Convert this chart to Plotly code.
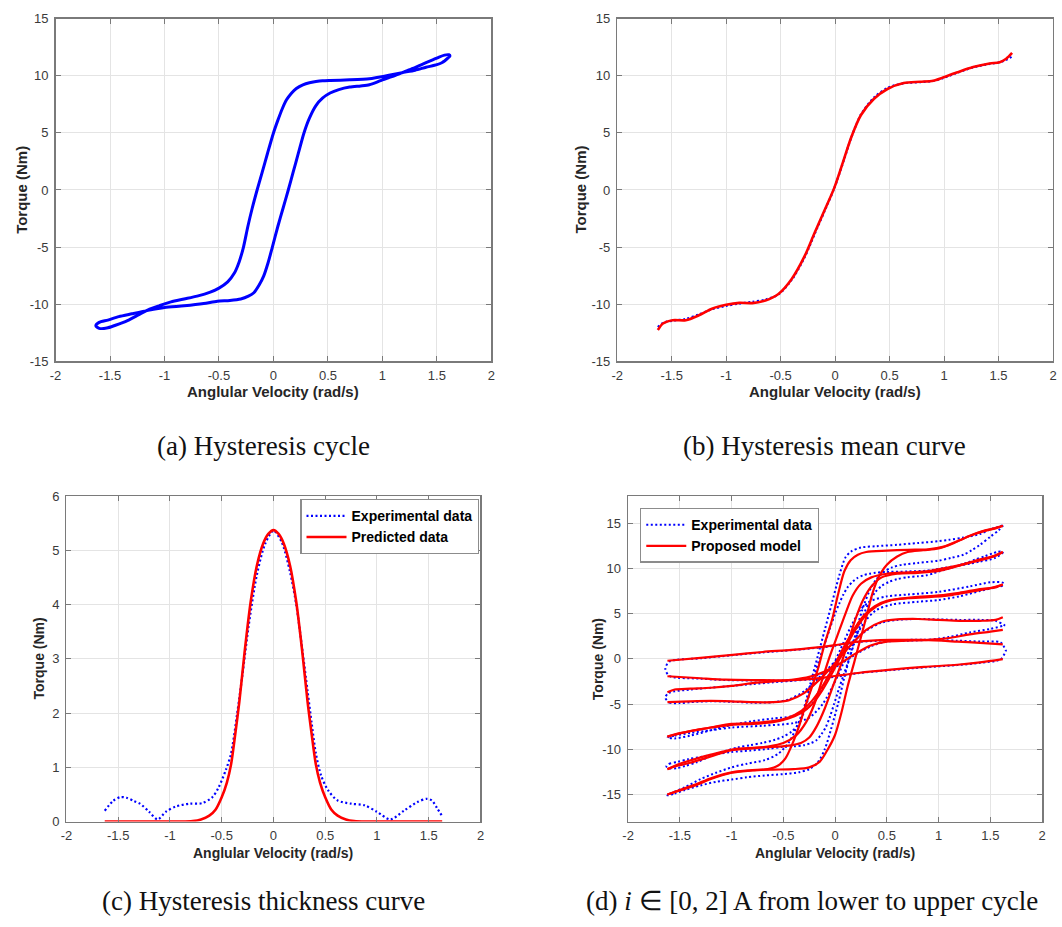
import plotly.graph_objects as go

W, H = 1062, 927

# ---------------- Panel (a): hysteresis cycle ----------------
a_inc_vel = [-1.63, -1.60, -1.52, -1.42, -1.30, -1.15, -1.00, -0.82, -0.64, -0.515, -0.40, -0.30, -0.23, -0.18,
             -0.13, -0.09, -0.05, -0.01, 0.04, 0.088, 0.136, 0.182, 0.228, 0.28, 0.33, 0.39, 0.45, 0.52, 0.60, 0.70,
             0.80, 0.88, 0.95, 1.00, 1.06, 1.12, 1.20, 1.28, 1.35, 1.45, 1.52, 1.57, 1.61]
a_inc_torque = [-11.9, -11.6, -11.4, -11.1, -10.85, -10.55, -10.3, -10.15, -9.95, -9.75, -9.68, -9.55, -9.3,
                -9.0, -8.3, -7.55, -6.4, -5.0, -3.2, -1.6, 0.0, 1.6, 3.2, 5.0, 6.3, 7.4, 8.05, 8.5, 8.8, 9.02,
                9.12, 9.22, 9.45, 9.65, 9.85, 10.05, 10.35, 10.65, 10.95, 11.35, 11.65, 11.82, 11.85]
a_dec_vel = [1.62, 1.60, 1.57, 1.545, 1.50, 1.40, 1.30, 1.18, 1.06, 0.95, 0.88, 0.70, 0.52, 0.45, 0.39, 0.33,
             0.27, 0.21, 0.167, 0.12, 0.08, 0.04, 0.0, -0.055, -0.105, -0.15, -0.195, -0.235, -0.275, -0.315,
             -0.36, -0.42, -0.50, -0.58, -0.70, -0.82, -0.94, -1.05, -1.15, -1.24, -1.34, -1.45, -1.53, -1.60,
             -1.63]
a_dec_torque = [11.75, 11.55, 11.3, 11.15, 10.98, 10.75, 10.5, 10.28, 10.05, 9.85, 9.74, 9.65, 9.6, 9.57, 9.5,
                9.4, 9.22, 8.9, 8.5, 7.9, 7.1, 6.1, 5.0, 3.2, 1.5, 0.0, -1.6, -3.2, -5.0, -6.3, -7.3, -8.05,
                -8.6, -8.95, -9.3, -9.55, -9.8, -10.15, -10.5, -10.95, -11.45, -11.85, -12.1, -12.12, -11.9]

# ---------------- Panel (b): hysteresis mean curve ----------------
b_vel = [-1.627, -1.58, -1.49, -1.37, -1.25, -1.13, -1.0, -0.88, -0.76, -0.64, -0.52, -0.4, -0.28, -0.19,
         -0.097, -0.006, 0.085, 0.145, 0.236, 0.357, 0.48, 0.63, 0.78, 0.9, 0.99, 1.115, 1.267, 1.418, 1.51,
         1.57, 1.624]
b_exp_torque = [-12.0, -11.65, -11.45, -11.3, -10.9, -10.45, -10.15, -9.95, -9.8, -9.6, -9.15, -7.9, -5.9,
                -3.9, -1.85, 0.2, 2.75, 4.5, 6.6, 8.1, 8.95, 9.35, 9.45, 9.55, 9.8, 10.25, 10.75, 11.05, 11.2,
                11.4, 11.7]
b_pred_torque = [-12.27, -11.7, -11.41, -11.41, -10.98, -10.4, -10.06, -9.89, -9.91, -9.68, -9.11, -7.82, -5.8,
                 -3.8, -1.78, 0.23, 2.82, 4.54, 6.55, 7.99, 8.85, 9.37, 9.48, 9.57, 9.86, 10.29, 10.78, 11.09,
                 11.2, 11.5, 12.01]

# ---------------- Panel (c): hysteresis thickness curve ----------------
c_exp_vel = [-1.63, -1.55, -1.48, -1.42, -1.35, -1.29, -1.2, -1.12, -1.04, -0.94, -0.81, -0.69, -0.59, -0.53,
             -0.46, -0.41, -0.35, -0.3, -0.24, -0.16, -0.08, 0.0, 0.08, 0.16, 0.22, 0.28, 0.33, 0.37, 0.41,
             0.46, 0.53, 0.62, 0.75, 0.88, 1.0, 1.13, 1.26, 1.39, 1.48, 1.53, 1.58, 1.63]
c_exp_thick = [0.2, 0.38, 0.45, 0.44, 0.38, 0.33, 0.18, 0.04, 0.18, 0.28, 0.33, 0.34, 0.45, 0.63, 0.95, 1.25,
               2.0, 2.7, 3.6, 4.55, 5.12, 5.36, 5.15, 4.6, 4.0, 3.15, 2.4, 1.8, 1.25, 0.85, 0.57, 0.39, 0.33,
               0.3, 0.18, 0.04, 0.2, 0.36, 0.42, 0.39, 0.25, 0.1]
c_pred_vel = [-1.63, -1.2, -0.9, -0.78, -0.7, -0.62, -0.56, -0.5, -0.45, -0.41, -0.37, -0.33, -0.28, -0.22,
              -0.16, -0.1, -0.05, 0.0, 0.05, 0.1, 0.16, 0.22, 0.28, 0.33, 0.37, 0.41, 0.45, 0.5, 0.56, 0.62,
              0.7, 0.78, 0.9, 1.2, 1.63]
c_pred_thick = [0.0, 0.0, 0.0, 0.01, 0.04, 0.11, 0.22, 0.45, 0.72, 1.05, 1.6, 2.2, 3.1, 4.05, 4.72, 5.12, 5.3,
                5.37, 5.3, 5.12, 4.72, 4.05, 3.1, 2.2, 1.6, 1.05, 0.72, 0.45, 0.22, 0.11, 0.04, 0.01, 0.0, 0.0,
                0.0]

# ---------------- Panel (d): cycles for i in [0, 2] A ----------------
# experimental loops (closed): increasing branch then decreasing branch
d_e1_inc_vel = [-1.62, -1.55, -1.45, -1.3, -1.15, -1.0, -0.85, -0.68, -0.5, -0.35, -0.25, -0.17, -0.1, -0.04,
                0.03, 0.09, 0.16, 0.22, 0.28, 0.34, 0.4, 0.47, 0.55, 0.65, 0.8, 1.0, 1.12, 1.24, 1.32, 1.4, 1.5,
                1.58, 1.62]
d_e1_inc_torque = [-15.1, -14.9, -14.5, -14.0, -13.6, -13.35, -13.1, -12.9, -12.75, -12.55, -12.2, -11.5, -10.0,
                   -7.8, -4.9, -2.0, 1.0, 3.8, 6.0, 7.7, 8.8, 9.6, 10.1, 10.4, 10.6, 10.85, 11.15, 11.5, 12.0,
                   12.6, 13.5, 14.2, 14.7]
d_e1_dec_vel = [1.63, 1.58, 1.5, 1.4, 1.24, 1.1, 1.0, 0.8, 0.6, 0.4, 0.25, 0.16, 0.1, 0.04, -0.03, -0.1, -0.17,
                -0.24, -0.3, -0.37, -0.45, -0.55, -0.68, -0.85, -1.0, -1.15, -1.3, -1.45, -1.55, -1.62]
d_e1_dec_torque = [14.8, 14.6, 14.3, 13.8, 13.4, 13.15, 13.0, 12.8, 12.6, 12.45, 12.3, 11.9, 11.2, 9.2, 6.2, 3.2,
                   0.2, -2.8, -5.4, -7.5, -9.3, -10.5, -11.2, -11.6, -12.0, -12.6, -13.3, -14.2, -14.7, -15.1]

d_e3_inc_vel = [-1.62, -1.55, -1.4, -1.2, -1.0, -0.7, -0.4, -0.25, -0.12, 0.0, 0.1, 0.2, 0.3, 0.4, 0.55, 0.8, 1.0,
                1.2, 1.4, 1.55, 1.62]
d_e3_inc_torque = [-8.7, -8.5, -8.2, -7.9, -7.6, -7.4, -7.1, -6.5, -5.0, -2.5, 0.0, 2.5, 4.3, 5.4, 6.0, 6.3, 6.5,
                   6.9, 7.5, 7.9, 8.1]
d_e3_dec_vel = [1.62, 1.5, 1.3, 1.0, 0.7, 0.5, 0.35, 0.25, 0.15, 0.05, -0.05, -0.15, -0.25, -0.4, -0.6, -0.8, -1.0,
                -1.2, -1.4, -1.55, -1.62]
d_e3_dec_torque = [8.4, 8.45, 8.0, 7.4, 7.1, 6.9, 6.4, 5.5, 3.5, 1.0, -1.5, -3.8, -5.3, -6.3, -6.6, -6.9, -7.3,
                   -7.9, -8.5, -8.8, -8.7]

d_e4_inc_vel = [-1.64, -1.6, -1.5, -1.4, -1.2, -1.0, -0.8, -0.6, -0.45, -0.3, -0.15, 0.0, 0.15, 0.3, 0.45, 0.6,
                0.8, 1.0, 1.2, 1.4, 1.55, 1.64]
d_e4_inc_torque = [-4.3, -4.85, -4.9, -4.8, -4.7, -4.75, -4.85, -4.8, -4.5, -3.6, -2.0, -0.3, 1.6, 3.1, 4.0, 4.3,
                   4.4, 4.35, 4.3, 4.3, 4.2, 3.7]
d_e4_dec_vel = [1.64, 1.5, 1.3, 1.1, 0.9, 0.7, 0.5, 0.35, 0.2, 0.05, -0.1, -0.25, -0.4, -0.6, -0.8, -1.0, -1.2,
                -1.4, -1.55, -1.61, -1.64]
d_e4_dec_torque = [3.7, 3.3, 2.9, 2.4, 2.1, 2.0, 1.9, 1.4, 0.5, -0.6, -1.5, -2.1, -2.4, -2.6, -2.8, -3.0, -3.2,
                   -3.4, -3.6, -3.8, -4.3]

d_e5_inc_vel = [-1.64, -1.6, -1.3, -1.06, -0.8, -0.42, -0.2, 0.0, 0.22, 0.54, 0.86, 1.18, 1.4, 1.6, 1.65]
d_e5_inc_torque = [-1.1, -1.9, -2.2, -2.35, -2.4, -2.4, -2.25, -2.0, -1.6, -1.25, -0.95, -0.7, -0.45, -0.05, 0.9]
d_e5_dec_vel = [1.65, 1.6, 1.4, 1.18, 0.86, 0.54, 0.22, 0.0, -0.1, -0.42, -0.7, -0.99, -1.3, -1.6, -1.64]
d_e5_dec_torque = [0.9, 1.8, 1.9, 2.0, 2.1, 2.05, 1.85, 1.45, 1.3, 0.95, 0.7, 0.4, 0.05, -0.3, -1.1]

# model branches (open)
d_r1_inc_vel = [-1.62, -1.5, -1.35, -1.2, -1.0, -0.8, -0.6, -0.4, -0.25, -0.15, -0.08, 0.0, 0.06, 0.12, 0.19,
                0.25, 0.31, 0.36, 0.42, 0.5, 0.6, 0.7, 0.85, 1.0, 1.15, 1.3, 1.45, 1.55, 1.62]
d_r1_inc_torque = [-15.0, -14.5, -13.9, -13.2, -12.55, -12.3, -12.25, -12.2, -12.0, -11.4, -10.2, -8.4, -6.0,
                   -3.1, -0.15, 2.4, 5.0, 7.2, 9.0, 10.4, 11.3, 11.8, 12.0, 12.2, 12.8, 13.6, 14.2, 14.4, 14.7]
d_r1_dec_vel = [1.62, 1.5, 1.35, 1.2, 1.05, 0.9, 0.7, 0.5, 0.3, 0.22, 0.15, 0.09, 0.03, -0.03, -0.1, -0.16,
                -0.22, -0.29, -0.35, -0.42, -0.48, -0.55, -0.65, -0.8, -1.0, -1.2, -1.35, -1.5, -1.62]
d_r1_dec_torque = [14.7, 14.3, 13.8, 13.1, 12.4, 12.1, 12.05, 11.95, 11.8, 11.5, 10.9, 9.7, 7.2, 4.3, 1.7, -0.9,
                   -3.0, -5.3, -7.5, -9.6, -11.0, -11.8, -12.2, -12.35, -12.6, -13.3, -14.0, -14.55, -15.0]

d_r2_inc_vel = [-1.62, -1.5, -1.36, -1.2, -0.98, -0.8, -0.6, -0.45, -0.33, -0.25, -0.18, -0.1, -0.02, 0.06, 0.13,
                0.2, 0.27, 0.35, 0.45, 0.6, 0.8, 1.0, 1.2, 1.4, 1.55, 1.62]
d_r2_inc_torque = [-12.2, -11.6, -11.1, -10.6, -10.0, -9.85, -9.75, -9.6, -9.3, -8.7, -7.5, -5.5, -3.0, -0.5,
                   2.0, 4.5, 6.5, 8.0, 9.0, 9.4, 9.5, 9.7, 10.3, 11.0, 11.4, 11.8]
d_r2_dec_vel = [1.62, 1.5, 1.3, 1.1, 0.9, 0.7, 0.5, 0.35, 0.25, 0.17, 0.1, 0.02, -0.06, -0.13, -0.2, -0.28,
                -0.38, -0.5, -0.65, -0.8, -1.0, -1.2, -1.4, -1.55, -1.62]
d_r2_dec_torque = [11.8, 11.2, 10.6, 10.1, 9.7, 9.55, 9.4, 9.0, 8.3, 7.0, 5.0, 2.5, 0.0, -2.5, -5.0, -7.0, -8.5,
                   -9.3, -9.7, -9.9, -10.1, -10.8, -11.5, -11.9, -12.2]

d_r3_inc_vel = [-1.62, -1.5, -1.35, -1.2, -1.0, -0.8, -0.6, -0.45, -0.33, -0.22, -0.12, -0.02, 0.08, 0.18, 0.28,
                0.4, 0.55, 0.75, 1.0, 1.2, 1.4, 1.55, 1.62]
d_r3_inc_torque = [-8.6, -8.2, -7.9, -7.6, -7.3, -7.2, -7.0, -6.6, -6.0, -5.0, -3.4, -1.4, 0.8, 2.9, 4.6, 5.8,
                   6.5, 6.8, 7.0, 7.3, 7.7, 7.9, 8.2]
d_r3_dec_vel = [1.62, 1.5, 1.3, 1.1, 0.9, 0.7, 0.5, 0.38, 0.28, 0.18, 0.08, -0.02, -0.12, -0.22, -0.33, -0.45,
                -0.6, -0.8, -1.0, -1.2, -1.4, -1.55, -1.62]
d_r3_dec_torque = [8.2, 7.8, 7.4, 7.0, 6.8, 6.7, 6.4, 5.8, 4.8, 3.2, 1.2, -1.0, -3.0, -4.6, -5.8, -6.5, -6.9,
                   -7.1, -7.2, -7.6, -8.0, -8.4, -8.6]

d_r4_inc_vel = [-1.62, -1.4, -1.2, -1.0, -0.8, -0.6, -0.45, -0.3, -0.15, 0.0, 0.15, 0.3, 0.45, 0.6, 0.8, 1.0, 1.2,
                1.4, 1.55, 1.62]
d_r4_inc_torque = [-4.8, -4.7, -4.65, -4.7, -4.8, -4.8, -4.6, -3.8, -2.3, -0.5, 1.5, 3.2, 4.1, 4.35, 4.4, 4.3,
                   4.2, 4.2, 4.3, 4.6]
d_r4_dec_vel = [1.62, 1.5, 1.3, 1.1, 0.9, 0.7, 0.5, 0.35, 0.2, 0.05, -0.1, -0.25, -0.4, -0.6, -0.8, -1.0, -1.2,
                -1.4, -1.55, -1.62]
d_r4_dec_torque = [3.2, 3.0, 2.7, 2.3, 2.1, 2.0, 1.9, 1.5, 0.6, -0.5, -1.4, -2.0, -2.3, -2.5, -2.7, -3.0, -3.2,
                   -3.3, -3.4, -3.7]

d_r5_inc_vel = [-1.62, -1.3, -1.06, -0.8, -0.42, -0.2, 0.0, 0.22, 0.54, 0.86, 1.18, 1.4, 1.62]
d_r5_inc_torque = [-1.93, -2.15, -2.3, -2.35, -2.37, -2.2, -1.9, -1.57, -1.2, -0.9, -0.66, -0.4, -0.04]
d_r5_dec_vel = [1.62, 1.4, 1.18, 0.86, 0.54, 0.22, 0.0, -0.1, -0.42, -0.7, -0.99, -1.3, -1.62]
d_r5_dec_torque = [1.6, 1.75, 1.9, 2.08, 2.08, 1.9, 1.5, 1.35, 0.99, 0.75, 0.44, 0.1, -0.22]

# ---------------- text ----------------
vel_ticks = [-2, -1.5, -1, -0.5, 0, 0.5, 1, 1.5, 2]
vel_ticktext = ["-2", "-1.5", "-1", "-0.5", "0", "0.5", "1", "1.5", "2"]
torque_ticks_ab = [-15, -10, -5, 0, 5, 10, 15]
torque_ticks_c = [0, 1, 2, 3, 4, 5, 6]
torque_ticks_d = [-15, -10, -5, 0, 5, 10, 15]
x_title = "Anglular Velocity (rad/s)"
y_title = "Torque (Nm)"
captions = ["(a) Hysteresis cycle", "(b) Hysteresis mean curve", "(c) Hysteresis thickness curve",
            "(d) <i>i</i> ∈ [0, 2] A from lower to upper cycle"]

BLUE = "#0000ff"
RED = "#ff0000"
DOT = "2px,2.5px"


def loop(parts):
    xs, ys = [], []
    for px, py in parts:
        xs += list(px) + [None]
        ys += list(py) + [None]
    return xs, ys


def closed(inc_x, inc_y, dec_x, dec_y):
    return list(inc_x) + list(dec_x), list(inc_y) + list(dec_y)


fig = go.Figure()

# (a)
xa, ya = closed(a_inc_vel, a_inc_torque, a_dec_vel, a_dec_torque)
fig.add_trace(go.Scatter(x=xa, y=ya, mode="lines", line=dict(color=BLUE, width=3.0, shape="spline", smoothing=0.7),
                         xaxis="x", yaxis="y", showlegend=False))
# (b)
fig.add_trace(go.Scatter(x=b_vel, y=b_exp_torque, mode="lines",
                         line=dict(color=BLUE, width=2.2, dash=DOT, shape="spline", smoothing=0.8),
                         xaxis="x2", yaxis="y2", showlegend=False))
fig.add_trace(go.Scatter(x=b_vel, y=b_pred_torque, mode="lines",
                         line=dict(color=RED, width=2.6, shape="spline", smoothing=0.8),
                         xaxis="x2", yaxis="y2", showlegend=False))
# (c)
fig.add_trace(go.Scatter(x=c_exp_vel, y=c_exp_thick, mode="lines", name="<b>Experimental data</b>",
                         line=dict(color=BLUE, width=2.2, dash=DOT, shape="spline", smoothing=0.8),
                         xaxis="x3", yaxis="y3", legend="legend"))
fig.add_trace(go.Scatter(x=c_pred_vel, y=c_pred_thick, mode="lines", name="<b>Predicted data</b>",
                         line=dict(color=RED, width=2.6, shape="spline", smoothing=0.8),
                         xaxis="x3", yaxis="y3", legend="legend"))
# (d)
e_parts = [closed(d_e1_inc_vel, d_e1_inc_torque, d_e1_dec_vel, d_e1_dec_torque),
           closed(a_inc_vel, a_inc_torque, a_dec_vel, a_dec_torque),
           closed(d_e3_inc_vel, d_e3_inc_torque, d_e3_dec_vel, d_e3_dec_torque),
           closed(d_e4_inc_vel, d_e4_inc_torque, d_e4_dec_vel, d_e4_dec_torque),
           closed(d_e5_inc_vel, d_e5_inc_torque, d_e5_dec_vel, d_e5_dec_torque)]
xe, ye = loop(e_parts)
fig.add_trace(go.Scatter(x=xe, y=ye, mode="lines", name="<b>Experimental data</b>",
                         line=dict(color=BLUE, width=2.0, dash=DOT, shape="spline", smoothing=0.8),
                         xaxis="x4", yaxis="y4", legend="legend2"))
r_parts = [(d_r1_inc_vel, d_r1_inc_torque), (d_r1_dec_vel, d_r1_dec_torque),
           (d_r2_inc_vel, d_r2_inc_torque), (d_r2_dec_vel, d_r2_dec_torque),
           (d_r3_inc_vel, d_r3_inc_torque), (d_r3_dec_vel, d_r3_dec_torque),
           (d_r4_inc_vel, d_r4_inc_torque), (d_r4_dec_vel, d_r4_dec_torque),
           (d_r5_inc_vel, d_r5_inc_torque), (d_r5_dec_vel, d_r5_dec_torque)]
xr, yr = loop(r_parts)
fig.add_trace(go.Scatter(x=xr, y=yr, mode="lines", name="<b>Proposed model</b>",
                         line=dict(color=RED, width=2.2, shape="spline", smoothing=0.8),
                         xaxis="x4", yaxis="y4", legend="legend2"))

AXC = "#7a7a7a"
TICKFONT = dict(family="Liberation Sans, Arial, sans-serif", size=13, color="#3a3a3a")


def xaxis(domain, anchor, standoff):
    return dict(domain=domain, anchor=anchor, range=[-2, 2], tickvals=vel_ticks, ticktext=vel_ticktext,
                showgrid=True, gridcolor="#e4e4e4", gridwidth=1, zeroline=False, showline=True,
                linecolor=AXC, linewidth=1.4, mirror="ticks", ticks="inside", ticklen=5, tickcolor=AXC,
                tickwidth=1, tickfont=TICKFONT, fixedrange=True, ticklabelstandoff=standoff)


def yaxis(domain, anchor, rng, ticks):
    return dict(domain=domain, anchor=anchor, range=rng, tickvals=ticks, ticktext=[str(t) for t in ticks],
                showgrid=True, gridcolor="#e4e4e4", gridwidth=1, zeroline=False, showline=True,
                linecolor=AXC, linewidth=1.4, mirror="ticks", ticks="inside", ticklen=5, tickcolor=AXC,
                tickwidth=1, tickfont=TICKFONT, fixedrange=True, ticklabelstandoff=3)


def px_x(p):
    return p / W


def px_y(p):
    return 1 - p / H


dom_a = ([px_x(50), px_x(490)], [px_y(360), px_y(12)])
dom_b = ([px_x(617), px_x(1057)], [px_y(360), px_y(12)])
dom_c = ([px_x(61), px_x(479)], [px_y(828), px_y(497)])
dom_d = ([px_x(628), px_x(1046)], [px_y(828), px_y(497)])

TITLEFONT = dict(family="Liberation Sans, Arial, sans-serif", color="#262626")
annotations = []
for (dx, dy), fs, xt_y, yt_x in [(dom_a, 15, 391, 16), (dom_b, 15, 391, 580), (dom_c, 14, 860, 33),
                                  (dom_d, 14, 860, 597)]:
    cx = (dx[0] + dx[1]) / 2
    cy = (dy[0] + dy[1]) / 2
    annotations.append(dict(text="<b>" + x_title + "</b>", x=cx, y=px_y(xt_y), xref="paper", yref="paper",
                            showarrow=False, xanchor="center", yanchor="middle",
                            font=dict(size=fs, **TITLEFONT)))
    annotations.append(dict(text="<b>" + y_title + "</b>", x=px_x(yt_x), y=cy, xref="paper", yref="paper",
                            showarrow=False, xanchor="center", yanchor="middle", textangle=-90,
                            font=dict(size=fs, **TITLEFONT)))

CAPFONT = dict(family="Liberation Serif, Times New Roman, serif", size=27, color="#111111")
for text, cx, cy, anchor in [(captions[0], 260, 446, "center"), (captions[1], 826, 446, "center"),
                             (captions[2], 260, 909, "center"), (captions[3], 583, 909, "left")]:
    annotations.append(dict(text=text, x=px_x(cx), y=px_y(cy), xref="paper", yref="paper", showarrow=False,
                            xanchor=anchor, yanchor="middle", font=CAPFONT))

LEGFONT = dict(family="Liberation Sans, Arial, sans-serif", size=14, color="#000000")
fig.update_layout(
    width=W, height=H, margin=dict(l=0, r=0, t=0, b=0), paper_bgcolor="white", plot_bgcolor="white",
    xaxis=xaxis(dom_a[0], "y", 2), yaxis=yaxis(dom_a[1], "x", [-15, 15], torque_ticks_ab),
    xaxis2=xaxis(dom_b[0], "y2", 2), yaxis2=yaxis(dom_b[1], "x2", [-15, 15], torque_ticks_ab),
    xaxis3=xaxis(dom_c[0], "y3", 1), yaxis3=yaxis(dom_c[1], "x3", [0, 6], torque_ticks_c),
    xaxis4=xaxis(dom_d[0], "y4", 1), yaxis4=yaxis(dom_d[1], "x4", [-18, 18], torque_ticks_d),
    legend=dict(x=px_x(297), y=px_y(500), xanchor="left", yanchor="top", bgcolor="white",
                bordercolor="#8c8c8c", borderwidth=1.3, font=LEGFONT, itemwidth=40, tracegroupgap=0),
    legend2=dict(x=px_x(640), y=px_y(509), xanchor="left", yanchor="top", bgcolor="white",
                 bordercolor="#8c8c8c", borderwidth=1.3, font=LEGFONT, itemwidth=40, tracegroupgap=0),
    annotations=annotations,
    showlegend=True,
)

fig.write_html("out.html", include_plotlyjs=True, config={"displayModeBar": False, "staticPlot": True})
